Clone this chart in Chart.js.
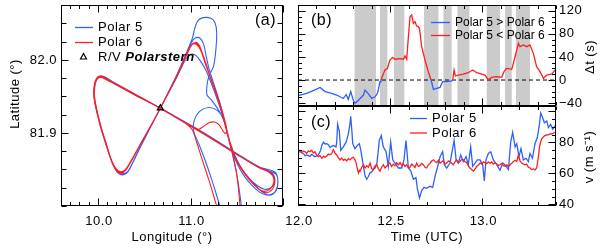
<!DOCTYPE html>
<html><head><meta charset="utf-8">
<script src="https://cdn.jsdelivr.net/npm/chart.js@4.4.0/dist/chart.umd.min.js"></script>
<style>
html,body{margin:0;padding:0;background:#fff;}
#wrap{position:relative;width:600px;height:251px;overflow:hidden;}
canvas{position:absolute;left:0;top:0;}
</style></head><body>
<div id="wrap">
<canvas id="ca" width="600" height="251"></canvas>
<canvas id="cb" width="600" height="251"></canvas>
<canvas id="cc" width="600" height="251"></canvas>
</div>
<script>
// ---------------- data ----------------
// Panel (a): flight tracks [longitude, latitude]
const p6Track = [
[11.33,81.78],[11.283,81.800],[11.20,81.835],[11.12,81.866],[11.06,81.890],[11.02,81.904],[10.95,81.913],[10.674,81.934],
[10.40,81.952],[10.15,81.969],[10.06,81.975],[10.03,81.977],[10.00,81.976],[9.975,81.970],[9.962,81.960],[9.962,81.950],[9.99,81.930],[10.04,81.905],[10.09,81.885],[10.13,81.868],[10.17,81.856],[10.21,81.849],[10.25,81.847],[10.29,81.849],[10.33,81.856],[10.45,81.882],[10.674,81.934],[10.85,81.977],[10.97,82.010],[11.01,82.020],[11.05,82.024],[11.09,82.021],[11.12,82.012],[11.16,81.998],[11.22,81.975],[11.28,81.955],[11.33,81.935],[11.37,81.917],[11.39,81.905],[11.42,81.888],[11.48,81.868],[11.56,81.850],[11.65,81.835],[11.74,81.823],[11.80,81.820],[11.86,81.823],[11.90,81.832],[11.89,81.841],[11.84,81.847],[11.75,81.852],[11.50,81.871],[11.20,81.894],[10.674,81.934],
[10.40,81.953],[10.15,81.970],[10.07,81.976],[10.035,81.978],[10.00,81.977],[9.97,81.971],[9.955,81.960],[9.958,81.948],[9.985,81.930],[10.03,81.907],[10.08,81.887],[10.125,81.869],[10.165,81.856],[10.205,81.848],[10.245,81.846],[10.28,81.848],[10.32,81.854],[10.45,81.883],[10.674,81.934],[10.85,81.978],[10.97,82.012],[11.02,82.022],[11.06,82.023],[11.10,82.018],[11.13,82.008],[11.17,81.992],[11.24,81.967],[11.30,81.945],[11.35,81.925],[11.385,81.910],[11.39,81.903],[11.38,81.899],[11.35,81.903],[11.31,81.911],[11.26,81.915],[11.20,81.914],[11.14,81.909],[11.08,81.905],[10.674,81.934],
[10.40,81.952],[10.15,81.969],[10.065,81.975],[10.03,81.976],[9.995,81.975],[9.968,81.969],[9.955,81.958],[9.96,81.946],[9.99,81.928],[10.04,81.904],[10.095,81.882],[10.14,81.864],[10.18,81.852],[10.22,81.846],[10.26,81.845],[10.30,81.849],[10.34,81.857],[10.45,81.882],[10.674,81.934],[10.85,81.977],[10.97,82.011],[11.015,82.021],[11.055,82.022],[11.09,82.018],[11.12,82.010],[11.16,81.995],[11.23,81.970],[11.29,81.950],[11.34,81.928],[11.38,81.910],[11.40,81.900],[11.43,81.886],[11.50,81.862],[11.58,81.845],[11.68,81.830],[11.76,81.821],[11.82,81.818],[11.88,81.822],[11.91,81.831],[11.895,81.842],[11.84,81.848],[11.76,81.852],[11.50,81.871],[11.20,81.895],[10.674,81.934],
[10.40,81.953],[10.15,81.970],[10.06,81.976],[10.025,81.977],[9.99,81.974],[9.965,81.966],[9.957,81.955],[9.965,81.944],[10.00,81.924],[10.05,81.900],[10.10,81.879],[10.145,81.862],[10.19,81.850],[10.235,81.845],[10.275,81.846],[10.31,81.851],[10.45,81.883],[10.674,81.934],[10.85,81.978],[10.97,82.011],[11.01,82.021],[11.05,82.023],[11.09,82.020],[11.12,82.011],[11.16,81.996],[11.23,81.971],[11.29,81.949],[11.34,81.927],[11.38,81.908],[11.41,81.893],[11.44,81.878],[11.47,81.862],[11.50,81.843],[11.52,81.822],[11.535,81.800],[11.55,81.78]
];
const p5Track = [
[11.37,81.78],[11.318,81.800],[11.24,81.832],[11.16,81.862],[11.09,81.885],[11.045,81.898],[11.03,81.906],[11.04,81.917],[11.08,81.927],[11.14,81.933],[11.20,81.935],[11.26,81.933],[11.32,81.927],[11.37,81.915],[11.39,81.905],[11.41,81.893],[11.45,81.878],[11.52,81.858],[11.61,81.841],[11.70,81.828],[11.79,81.818],[11.87,81.815],[11.925,81.822],[11.945,81.834],[11.925,81.845],[11.87,81.849],[11.75,81.853],[11.50,81.872],[11.20,81.896],[10.674,81.934],
[10.40,81.953],[10.15,81.971],[10.07,81.977],[10.03,81.978],[9.99,81.975],[9.965,81.967],[9.955,81.955],[9.965,81.943],[9.995,81.926],[10.05,81.900],[10.11,81.876],[10.16,81.857],[10.21,81.846],[10.26,81.843],[10.31,81.845],[10.35,81.853],[10.46,81.882],[10.674,81.934],[10.85,81.979],[10.97,82.014],[11.02,82.030],[11.05,82.045],[11.08,82.054],[11.14,82.058],[11.22,82.057],[11.265,82.051],[11.283,82.038],[11.275,82.015],[11.25,81.992],[11.20,81.978],[11.178,81.965],[11.178,81.952],[11.22,81.946],[11.29,81.934],[11.35,81.920],[11.39,81.905],[11.43,81.884],[11.49,81.862],[11.57,81.843],[11.66,81.829],[11.76,81.818],[11.85,81.815],[11.92,81.820],[11.945,81.832],[11.93,81.843],[11.87,81.847],[11.75,81.853],[11.50,81.871],[11.20,81.895],[10.674,81.934],
[10.40,81.952],[10.15,81.970],[10.06,81.976],[10.02,81.977],[9.985,81.973],[9.962,81.963],[9.958,81.950],[9.975,81.938],[10.01,81.918],[10.07,81.892],[10.12,81.872],[10.17,81.855],[10.22,81.846],[10.27,81.844],[10.32,81.847],[10.36,81.855],[10.46,81.881],[10.674,81.934],[10.85,81.976],[10.93,81.997],[10.98,82.006],[11.02,82.008],[11.06,82.006],[11.11,81.998],[11.17,81.985],[11.24,81.963],[11.30,81.942],[11.35,81.923],[11.38,81.909],[11.40,81.898],[11.44,81.882],[11.52,81.858],[11.62,81.840],[11.72,81.828],[11.80,81.823],[11.87,81.825],[11.91,81.833],[11.90,81.842],[11.84,81.848],[11.75,81.852],[11.50,81.871],[11.20,81.895],[10.674,81.934],
[10.40,81.953],[10.15,81.970],[10.065,81.976],[10.03,81.977],[9.995,81.975],[9.968,81.968],[9.955,81.957],[9.962,81.945],[9.99,81.928],[10.04,81.904],[10.10,81.879],[10.15,81.861],[10.20,81.848],[10.25,81.843],[10.30,81.844],[10.345,81.851],[10.46,81.882],[10.674,81.934],[10.85,81.978],[10.97,82.012],[11.01,82.024],[11.05,82.030],[11.10,82.030],[11.14,82.022],[11.17,82.005],[11.20,81.988],[11.26,81.964],[11.32,81.940],[11.37,81.916],[11.40,81.899],[11.43,81.884],[11.46,81.869],[11.49,81.851],[11.52,81.828],[11.55,81.800],[11.565,81.78]
];
const shipPos = [[10.674, 81.934]];
const lonTicks = [10.0, 11.0];
const lonLabels = ['10.0', '11.0'];
const latTicks = [81.9, 82.0];
const latLabels = ['81.9', '82.0'];

// Panel (b): time lag Δt (s) vs time (UTC hours)
const dtSeries = [
[12.000,-27],[12.011,-26],[12.047,-23],[12.083,-18.5],[12.120,-13],[12.147,-20],[12.183,-23],[12.210,-26],[12.228,-29],[12.246,-32],[12.261,-25],[12.273,-33.5],[12.286,-20],[12.300,-35],[12.309,-40.4],[12.328,-35],[12.355,-26],[12.364,-17.3],[12.382,-24],[12.400,-32],[12.418,-29],[12.431,-23],[12.445,-3],[12.450,0],
[12.454,3],[12.472,17.3],[12.485,20],[12.499,34.7],[12.514,39.3],[12.526,36],[12.554,37],[12.572,36],[12.581,41.6],[12.590,36],[12.599,75],[12.608,109.8],[12.617,112.7],[12.626,98.2],[12.635,101],[12.644,93.6],[12.653,92.5],[12.659,89.6],[12.671,57.8],[12.689,34.7],[12.707,14.5],[12.722,0],
[12.735,-16.2],[12.753,-14.4],[12.771,-12.7],[12.785,-2.9],[12.807,-2.9],[12.834,-1.7],[12.839,0],
[12.847,17.3],[12.854,7],[12.870,8.7],[12.897,10.4],[12.924,12.7],[12.948,17.3],[12.970,12.7],[12.997,10.4],[13.015,8.7],[13.033,0.5],[13.051,4.6],[13.078,5.8],[13.105,4.6],[13.118,14.5],[13.133,20.2],[13.160,18.5],[13.178,40.4],[13.196,63.6],[13.205,57.8],[13.223,60.7],[13.241,57.8],[13.259,60.7],[13.277,46.2],[13.295,23.1],[13.313,14.5],[13.332,2.9],[13.350,8.7],[13.377,10.4],[13.395,17.3],[13.400,18]
];
// shaded intervals (UTC hours)
const bandStart = [12.306, 12.445, 12.521, 12.684, 12.789, 12.865, 13.024, 13.123, 13.183];
const bandEnd   = [12.423, 12.485, 12.577, 12.762, 12.834, 12.930, 13.096, 13.160, 13.259];
const timeTicks = [12.0, 12.5, 13.0];
const timeLabels = ['12.0', '12.5', '13.0'];
const dtTicks = [-40, 0, 40, 80, 120];
const dtLabels = ['\u221240', '0', '40', '80', '120'];

// Panel (c): wind speed v (m s-1) vs time
const p5Speed = [
[12.000,74],[12.011,74],[12.029,72.9],[12.038,71.5],[12.047,71.9],[12.065,71],[12.074,72.3],[12.092,70.8],[12.110,71.9],[12.123,75],[12.129,78],[12.138,80.2],[12.147,79],[12.156,79.2],[12.165,78.5],[12.174,76.7],[12.183,77.5],[12.192,78.1],[12.206,77.1],[12.210,80],[12.215,91.7],[12.220,89],[12.224,87.5],[12.232,75],[12.246,77.1],[12.261,80.2],[12.273,85.4],[12.282,92],[12.286,96.9],[12.292,88],[12.297,79.2],[12.309,76],[12.322,78.1],[12.333,79.2],[12.342,74],[12.355,64.6],[12.364,58.3],[12.373,56.25],[12.382,58],[12.391,60.4],[12.400,61],[12.409,62.5],[12.418,63.5],[12.427,65.6],[12.436,75],[12.441,81.25],[12.452,84.4],[12.463,77.1],[12.478,74],[12.490,64.6],[12.503,80.2],[12.514,68.75],[12.526,66.7],[12.545,63.5],[12.563,63.5],[12.575,68.75],[12.586,81.25],[12.599,63.5],[12.612,61.5],[12.626,56.25],[12.640,57.3],[12.648,50],[12.659,44.2],[12.671,49],[12.684,51],[12.698,50.4],[12.716,51.7],[12.731,51],[12.744,58.3],[12.756,63.5],[12.771,70.8],[12.785,74],[12.794,65.6],[12.807,63.5],[12.825,66.7],[12.839,76],[12.847,81.25],[12.858,68.75],[12.870,66.7],[12.883,71.9],[12.897,67.7],[12.912,70.8],[12.924,65.6],[12.937,77.1],[12.948,64.6],[12.961,66.7],[12.973,68.75],[12.988,68.75],[13.002,65.6],[13.011,55.2],[13.020,68.75],[13.033,72.9],[13.046,74],[13.060,68.75],[13.078,65.6],[13.096,62],[13.111,66.7],[13.123,65.6],[13.142,62.5],[13.154,80.2],[13.165,86.5],[13.178,77.1],[13.187,79.2],[13.199,70.8],[13.210,76],[13.223,68.75],[13.238,69.8],[13.250,67.7],[13.259,72.9],[13.272,69.8],[13.286,79.2],[13.299,83.3],[13.310,91.7],[13.317,99],[13.328,95.8],[13.337,92.7],[13.350,93.75],[13.359,89.6],[13.371,91.7],[13.382,88.5],[13.395,90.6],[13.400,91]
];
const p6Speed = [
[12.000,74],[12.011,75],[12.020,73.5],[12.029,74.5],[12.038,74],[12.047,73],[12.056,74.6],[12.065,74],[12.074,75],[12.083,73.2],[12.092,74],[12.101,72],[12.110,70.8],[12.119,71.5],[12.129,69.8],[12.138,71],[12.147,70.5],[12.156,71.3],[12.165,72.5],[12.174,72],[12.183,72.9],[12.192,75.4],[12.201,73],[12.210,71.9],[12.219,70],[12.228,68.75],[12.237,70],[12.246,68.5],[12.255,69.2],[12.264,68],[12.273,69.5],[12.282,68.75],[12.291,70],[12.300,70.4],[12.309,69],[12.315,67],[12.322,63],[12.328,60.4],[12.333,62],[12.337,61.5],[12.346,64],[12.355,65.6],[12.364,63.5],[12.373,65],[12.382,64],[12.391,66.7],[12.400,63],[12.409,62.5],[12.418,65],[12.427,65.6],[12.436,63],[12.445,61.5],[12.454,64],[12.463,65.6],[12.472,63.5],[12.481,64.6],[12.490,66],[12.499,66.7],[12.508,64.5],[12.517,66],[12.526,65],[12.535,67],[12.545,65.5],[12.554,67],[12.563,65],[12.572,66.3],[12.581,64.5],[12.590,65.6],[12.599,63.5],[12.608,64.2],[12.617,66],[12.626,65],[12.635,63.8],[12.644,66.7],[12.653,64.5],[12.662,65],[12.671,66.5],[12.680,65.6],[12.689,64],[12.698,63.5],[12.707,65.5],[12.716,66.3],[12.725,68],[12.735,68.75],[12.744,67.5],[12.753,67],[12.762,68.5],[12.771,66.7],[12.780,67.5],[12.789,68.3],[12.798,66],[12.807,66.7],[12.816,68],[12.825,67.7],[12.834,66.5],[12.843,65.6],[12.852,67.5],[12.861,68.75],[12.870,67],[12.879,67.7],[12.888,69],[12.897,68.75],[12.906,67.5],[12.916,67],[12.924,65],[12.933,63.5],[12.942,62.5],[12.952,61.5],[12.961,63],[12.970,64.6],[12.979,65.5],[12.988,66.7],[12.997,66],[13.006,67.5],[13.015,67],[13.024,66.3],[13.033,67.5],[13.042,66.5],[13.051,67.5],[13.060,66],[13.069,66.8],[13.078,66.3],[13.087,65],[13.096,65.6],[13.105,66.5],[13.114,65],[13.123,64.6],[13.133,65.5],[13.142,64.5],[13.151,65.6],[13.160,66.5],[13.169,67.7],[13.178,68.5],[13.187,67.7],[13.196,71.9],[13.205,68],[13.214,66.7],[13.223,66],[13.232,65.6],[13.241,66],[13.250,64],[13.259,63.5],[13.268,62.5],[13.277,62.9],[13.286,62.3],[13.295,63.5],[13.301,67.7],[13.306,72],[13.310,77],[13.316,80],[13.322,82.3],[13.331,83.5],[13.340,84.4],[13.350,84.8],[13.359,85],[13.368,85.4],[13.377,85.6],[13.386,86],[13.395,86.5],[13.400,86.5]
];
const vTicks = [40, 60, 80];
const vLabels = ['40', '60', '80'];

// ---------------- styling ----------------
const BLUE = 'rgb(45,95,255)';
const RED = 'rgb(255,30,30)';
const BAND = '#cbcbcb';
const FAM = '"Liberation Sans", Arial, Helvetica, sans-serif';
const LON_MIN = 9.6, LON_MAX = 12.0, LAT_MIN = 81.8, LAT_MAX = 82.075;
const T_MIN = 12.0, T_MAX = 13.4;
const DT_MIN = -45, DT_MAX = 130;
const V_MIN = 39, V_MAX = 103.5;

const toXY = arr => arr.map(p => ({x: p[0], y: p[1]}));

function setFont(ctx, size, style, spacing) {
  ctx.font = (style ? style + ' ' : '') + size + 'px ' + FAM;
  try { ctx.letterSpacing = (spacing === undefined ? 0.5 : spacing) + 'px'; } catch (e) {}
}

function axesPlugin(id, spec) {
  return {
    id,
    afterDraw(chart) {
      const ctx = chart.ctx, a = chart.chartArea, xs = chart.scales.x, ys = chart.scales.y;
      ctx.save();
      ctx.strokeStyle = '#000';
      ctx.lineWidth = 1;
      const L = Math.round(a.left) + 0.5, R = Math.round(a.right) - 0.5;
      const T = Math.round(a.top) + 0.5, B = Math.round(a.bottom) - 0.5;
      ctx.strokeRect(L, T, R - L, B - T);
      const isMaj = (v, arr) => arr.some(m => Math.abs(m - v) < 1e-6);
      ctx.beginPath();
      for (let i = 0; ; i++) {
        const v = spec.xMinor[0] + i * spec.xMinor[2];
        if (v > spec.xMinor[1] + 1e-9) break;
        const px = Math.round(xs.getPixelForValue(v)) + 0.5;
        const len = isMaj(v, spec.xMajor) ? spec.xMajLen : spec.xMinLen;
        if (spec.xBottom) { ctx.moveTo(px, B); ctx.lineTo(px, B - len); }
        if (spec.xTop) { ctx.moveTo(px, T); ctx.lineTo(px, T + len); }
      }
      for (let i = 0; ; i++) {
        const v = spec.yMinor[0] + i * spec.yMinor[2];
        if (v > spec.yMinor[1] + 1e-9) break;
        const py = Math.round(ys.getPixelForValue(v)) + 0.5;
        const len = isMaj(v, spec.yMajor) ? spec.yMajLen : spec.yMinLen;
        ctx.moveTo(L, py); ctx.lineTo(L + len, py);
        ctx.moveTo(R, py); ctx.lineTo(R - len, py);
      }
      ctx.stroke();
      ctx.fillStyle = '#000';
      setFont(ctx, 13);
      if (spec.xLabels) {
        ctx.textAlign = 'center'; ctx.textBaseline = 'middle';
        spec.xLabels.values.forEach((v, i) => ctx.fillText(spec.xLabels.texts[i], xs.getPixelForValue(v) + 1, spec.xLabels.y));
      }
      if (spec.yLabels) {
        ctx.textAlign = spec.yLabels.align; ctx.textBaseline = 'middle';
        spec.yLabels.values.forEach((v, i) => ctx.fillText(spec.yLabels.texts[i], spec.yLabels.x, ys.getPixelForValue(v)));
      }
      (spec.titles || []).forEach(t => {
        ctx.save();
        ctx.translate(t.x, t.y);
        ctx.rotate(t.rot || 0);
        setFont(ctx, 13);
        ctx.textAlign = 'center'; ctx.textBaseline = 'middle';
        ctx.fillText(t.text, 0, 0);
        ctx.restore();
      });
      if (spec.letter) {
        setFont(ctx, 16);
        ctx.textAlign = 'left'; ctx.textBaseline = 'middle';
        ctx.fillText(spec.letter.text, spec.letter.x, spec.letter.y);
      }
      if (spec.legend) spec.legend(ctx);
      ctx.restore();
    }
  };
}

function legendLine(ctx, x0, x1, y, color, text, size, spacing) {
  ctx.save();
  ctx.strokeStyle = color; ctx.lineWidth = 1.3;
  ctx.beginPath(); ctx.moveTo(x0, y); ctx.lineTo(x1, y); ctx.stroke();
  ctx.fillStyle = '#000';
  setFont(ctx, size, '', spacing);
  ctx.textAlign = 'left'; ctx.textBaseline = 'middle';
  ctx.fillText(text, x1 + 5, y);
  ctx.restore();
}

const baseOpts = (pad, xr, yr) => ({
  responsive: false, animation: false, devicePixelRatio: 1, events: [],
  layout: {padding: pad},
  scales: {
    x: {type: 'linear', min: xr[0], max: xr[1], display: false},
    y: {type: 'linear', min: yr[0], max: yr[1], display: false}
  },
  plugins: {legend: {display: false}, tooltip: {enabled: false}}
});

// ---------------- panel (a) ----------------
new Chart(document.getElementById('ca'), {
  type: 'scatter',
  data: {datasets: [
    {label: 'R/V Polarstern', data: toXY(shipPos), pointStyle: 'triangle', pointRadius: 3.5, borderColor: '#000', backgroundColor: 'rgba(0,0,0,0)', borderWidth: 1.2, order: 0},
    {label: 'Polar 6', data: toXY(p6Track), showLine: true, borderColor: RED, borderWidth: 1.1, pointRadius: 0, tension: 0.3, order: 1},
    {label: 'Polar 5', data: toXY(p5Track), showLine: true, borderColor: BLUE, borderWidth: 1.1, pointRadius: 0, tension: 0.3, order: 2}
  ]},
  options: baseOpts({left: 61, top: 5, right: 317, bottom: 45}, [LON_MIN, LON_MAX], [LAT_MIN, LAT_MAX]),
  plugins: [axesPlugin('axA', {
    xMinor: [LON_MIN, LON_MAX, 0.1], xMajor: [10, 11, 12], xMajLen: 7, xMinLen: 3.5, xBottom: true, xTop: true,
    yMinor: [LAT_MIN, LAT_MAX, 0.025], yMajor: [81.9, 82.0], yMajLen: 7, yMinLen: 5,
    xLabels: {values: lonTicks, texts: lonLabels, y: 221},
    yLabels: {values: latTicks, texts: latLabels, x: 57, align: 'right'},
    titles: [{text: 'Longitude (\u00b0)', x: 172, y: 237}, {text: 'Latitude (\u00b0)', x: 15, y: 94, rot: -Math.PI / 2}],
    letter: {text: '(a)', x: 255, y: 21},
    legend: ctx => {
      legendLine(ctx, 75, 93, 27.5, BLUE, 'Polar 5', 13);
      legendLine(ctx, 75, 93, 42.5, RED, 'Polar 6', 13);
      ctx.save();
      ctx.strokeStyle = '#000'; ctx.lineWidth = 1.2;
      ctx.beginPath(); ctx.moveTo(83.5, 53.5); ctx.lineTo(86.5, 59); ctx.lineTo(80.5, 59); ctx.closePath(); ctx.stroke();
      ctx.fillStyle = '#000'; setFont(ctx, 13);
      ctx.textAlign = 'left'; ctx.textBaseline = 'middle';
      ctx.fillText('R/V ', 98, 57);
      const w = ctx.measureText('R/V ').width;
      setFont(ctx, 13, 'italic bold');
      ctx.fillText('Polarstern', 98 + w, 57);
      ctx.restore();
    }
  })]
});

// ---------------- panel (b) ----------------
const bandPts = [];
bandStart.forEach((s, i) => {
  bandPts.push([s, DT_MIN], [s, DT_MAX], [bandEnd[i], DT_MAX], [bandEnd[i], DT_MIN]);
});
new Chart(document.getElementById('cb'), {
  type: 'line',
  data: {datasets: [
    {label: 'dt', data: toXY(dtSeries), borderColor: RED, borderWidth: 1.3, pointRadius: 0, order: 1,
     segment: {borderColor: c => ((c.p0.parsed.y + c.p1.parsed.y) < 0 ? BLUE : RED)}},
    {label: 'zero', data: toXY([[T_MIN, 0], [T_MAX, 0]]), borderColor: '#000', borderDash: [4, 3], borderWidth: 1, pointRadius: 0, order: 2},
    {label: 'bands', data: toXY(bandPts), borderColor: 'rgba(0,0,0,0)', borderWidth: 0, backgroundColor: BAND, fill: 'start', pointRadius: 0, order: 3}
  ]},
  options: baseOpts({left: 298, top: 5, right: 44, bottom: 145}, [T_MIN, T_MAX], [DT_MIN, DT_MAX]),
  plugins: [axesPlugin('axB', {
    xMinor: [T_MIN, T_MAX, 0.1], xMajor: [12.0, 12.5, 13.0], xMajLen: 7, xMinLen: 3.5, xBottom: true, xTop: true,
    yMinor: [-40, 130, 10], yMajor: dtTicks, yMajLen: 7, yMinLen: 3.5,
    yLabels: {values: dtTicks, texts: dtLabels, x: 559, align: 'left'},
    titles: [{text: '\u0394t (s)', x: 590, y: 57, rot: -Math.PI / 2}],
    letter: {text: '(b)', x: 311, y: 21},
    legend: ctx => {
      legendLine(ctx, 431, 450, 22.5, BLUE, 'Polar 5 > Polar 6', 12, 0);
      legendLine(ctx, 431, 450, 35.5, RED, 'Polar 5 < Polar 6', 12, 0);
    }
  })]
});

// ---------------- panel (c) ----------------
new Chart(document.getElementById('cc'), {
  type: 'line',
  data: {datasets: [
    {label: 'Polar 6', data: toXY(p6Speed), borderColor: RED, borderWidth: 1.3, pointRadius: 0, order: 1},
    {label: 'Polar 5', data: toXY(p5Speed), borderColor: BLUE, borderWidth: 1.3, pointRadius: 0, order: 2}
  ]},
  options: baseOpts({left: 298, top: 106, right: 44, bottom: 45}, [T_MIN, T_MAX], [V_MIN, V_MAX]),
  plugins: [axesPlugin('axC', {
    xMinor: [T_MIN, T_MAX, 0.1], xMajor: [12.0, 12.5, 13.0], xMajLen: 7, xMinLen: 3.5, xBottom: true, xTop: true,
    yMinor: [40, 100, 5], yMajor: [40, 60, 80, 100], yMajLen: 7, yMinLen: 3.5,
    xLabels: {values: timeTicks, texts: timeLabels, y: 221},
    yLabels: {values: vTicks, texts: vLabels, x: 559, align: 'left'},
    titles: [{text: 'Time (UTC)', x: 427, y: 237}, {text: 'v (m s\u207b\u00b9)', x: 589, y: 157, rot: -Math.PI / 2}],
    letter: {text: '(c)', x: 311, y: 123},
    legend: ctx => {
      legendLine(ctx, 410, 427, 118.5, BLUE, 'Polar 5', 13);
      legendLine(ctx, 410, 427, 133, RED, 'Polar 6', 13);
    }
  })]
});
</script>
</body></html>
